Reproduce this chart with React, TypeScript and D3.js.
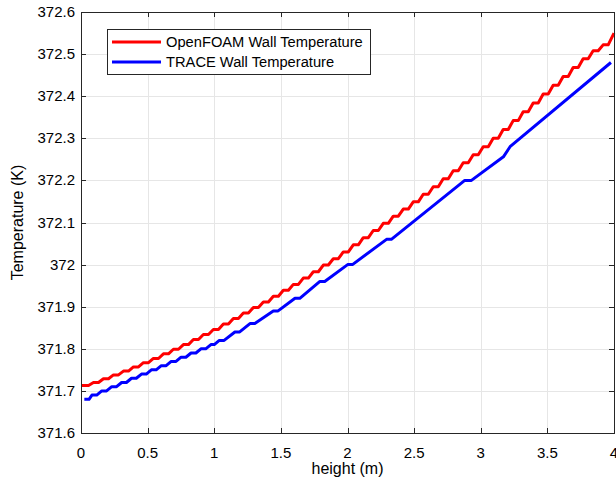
import React from "react";
import * as d3 from "d3";

// chart size and plot box
const W = 616;
const H = 487;
const margin = { left: 81, right: 2, top: 12, bottom: 54 };

// axis ticks
const xTicks = [0, 0.5, 1, 1.5, 2, 2.5, 3, 3.5, 4];
const yTicks = [371.6, 371.7, 371.8, 371.9, 372, 372.1, 372.2, 372.3, 372.4, 372.5, 372.6];

// OpenFOAM: wall cell centres (m) and temperatures (K), drawn as small plateaus
const redX = [
  0.0375, 0.1125, 0.1875, 0.2625, 0.3375, 0.4125, 0.4875, 0.5625, 0.6375, 0.7125,
  0.7875, 0.8625, 0.9375, 1.0125, 1.0875, 1.1625, 1.2375, 1.3125, 1.3875, 1.4625,
  1.5375, 1.6125, 1.6875, 1.7625, 1.8375, 1.9125, 1.9875, 2.0625, 2.1375, 2.2125,
  2.2875, 2.3625, 2.4375, 2.5125, 2.5875, 2.6625, 2.7375, 2.8125, 2.8875, 2.9625,
  3.0375, 3.1125, 3.1875, 3.2625, 3.3375, 3.4125, 3.4875, 3.5625, 3.6375, 3.7125,
  3.7875, 3.8625, 3.9375,
];
const redT = [
  371.713, 371.720, 371.729, 371.738, 371.747, 371.757, 371.767, 371.777, 371.788, 371.799,
  371.810, 371.822, 371.834, 371.846, 371.859, 371.872, 371.885, 371.898, 371.911, 371.925,
  371.939, 371.953, 371.968, 371.983, 371.999, 372.014, 372.030, 372.047, 372.064, 372.081,
  372.098, 372.115, 372.132, 372.149, 372.167, 372.185, 372.204, 372.223, 372.242, 372.261,
  372.280, 372.300, 372.321, 372.342, 372.363, 372.384, 372.405, 372.426, 372.447, 372.468,
  372.489, 372.508, 372.522,
];
const redEnd = [4.0, 372.55];

// TRACE: polyline vertices (m, K)
const blueX = [
  0.025, 0.060, 0.082, 0.118, 0.156, 0.192, 0.231, 0.267, 0.305, 0.341,
  0.379, 0.415, 0.454, 0.490, 0.528, 0.564, 0.603, 0.639, 0.677, 0.713,
  0.751, 0.787, 0.826, 0.862, 0.900, 0.936, 0.975, 1.000, 1.038, 1.074,
  1.155, 1.191, 1.268, 1.304, 1.443, 1.479, 1.606, 1.642, 1.793, 1.829,
  2.001, 2.037, 2.293, 2.329, 2.880, 2.930, 3.170, 3.220, 3.977,
];
const blueT = [
  371.68, 371.68, 371.69, 371.69, 371.70, 371.70, 371.71, 371.71, 371.72, 371.72,
  371.73, 371.73, 371.74, 371.74, 371.75, 371.75, 371.76, 371.76, 371.77, 371.77,
  371.78, 371.78, 371.79, 371.79, 371.80, 371.80, 371.81, 371.81, 371.82, 371.82,
  371.84, 371.84, 371.86, 371.86, 371.89, 371.89, 371.92, 371.92, 371.96, 371.96,
  372.00, 372.00, 372.06, 372.06, 372.20, 372.20, 372.256, 372.28, 372.48,
];

const legendNames = ["OpenFOAM Wall Temperature", "TRACE Wall Temperature"];
const colors = ["#ff0000", "#0000ff"];

const font = "'Liberation Sans', Arial, Helvetica, sans-serif";
const axisColor = "#262626";

export default function App() {
  const x = d3.scaleLinear().domain([0, 4]).range([margin.left, W - margin.right]);
  const y = d3.scaleLinear().domain([371.6, 372.6]).range([H - margin.bottom, margin.top]);

  const line = d3
    .line<[number, number]>()
    .x((d) => x(d[0]))
    .y((d) => y(d[1]));

  // plateau of half width h round each cell centre
  const h = 0.019;
  const redPts: [number, number][] = [];
  redX.forEach((cx, i) => {
    redPts.push([i === 0 ? 0 : cx - h, redT[i]]);
    redPts.push([cx + h, redT[i]]);
  });
  redPts.push([redEnd[0], redEnd[1]]);

  const bluePts: [number, number][] = blueX.map((v, i) => [v, blueT[i]]);

  const x0 = x(0), x1 = x(4), y0 = y(371.6), y1 = y(372.6);
  const tickLen = 5;
  const fmt = (v: number) => String(+v.toFixed(1));

  return (
    <svg
      width={W}
      height={H}
      style={{ position: "absolute", left: 0, top: 0, background: "#fff" }}
      fontFamily={font}
    >
      <rect x={0} y={0} width={W} height={H} fill="#fff" />

      {/* grid */}
      <g stroke="#e6e6e6" strokeWidth={1}>
        {xTicks.map((t) => (
          <line key={"gx" + t} x1={Math.round(x(t)) + 0.5} x2={Math.round(x(t)) + 0.5} y1={y1} y2={y0} />
        ))}
        {yTicks.map((t) => (
          <line key={"gy" + t} x1={x0} x2={x1} y1={Math.round(y(t)) + 0.5} y2={Math.round(y(t)) + 0.5} />
        ))}
      </g>

      {/* data */}
      <path d={line(redPts) || ""} fill="none" stroke={colors[0]} strokeWidth={3} strokeLinejoin="round" />
      <path d={line(bluePts) || ""} fill="none" stroke={colors[1]} strokeWidth={3} strokeLinejoin="round" />

      {/* box and ticks */}
      <g stroke={axisColor} strokeWidth={1} fill="none">
        <rect x={Math.round(x0) + 0.5} y={Math.round(y1) + 0.5} width={Math.round(x1 - x0)} height={Math.round(y0 - y1)} />
        {xTicks.map((t) => {
          const px = Math.round(x(t)) + 0.5;
          return (
            <g key={"tx" + t}>
              <line x1={px} x2={px} y1={y0} y2={y0 - tickLen} />
              <line x1={px} x2={px} y1={y1} y2={y1 + tickLen} />
            </g>
          );
        })}
        {yTicks.map((t) => {
          const py = Math.round(y(t)) + 0.5;
          return (
            <g key={"ty" + t}>
              <line x1={x0} x2={x0 + tickLen} y1={py} y2={py} />
              <line x1={x1} x2={x1 - tickLen} y1={py} y2={py} />
            </g>
          );
        })}
      </g>

      {/* tick labels */}
      <g fontSize={15} fill="#000">
        {xTicks.map((t) => (
          <text key={"lx" + t} x={x(t)} y={y0 + 25} textAnchor="middle">
            {fmt(t)}
          </text>
        ))}
        {yTicks.map((t) => (
          <text key={"ly" + t} x={x0 - 6} y={y(t) + 5} textAnchor="end">
            {fmt(t)}
          </text>
        ))}
      </g>

      {/* axis titles */}
      <text x={(x0 + x1) / 2} y={H - 13} textAnchor="middle" fontSize={16} fill="#000">
        height (m)
      </text>
      <text
        transform={`translate(23,${(y0 + y1) / 2}) rotate(-90)`}
        textAnchor="middle"
        fontSize={16}
        fill="#000"
      >
        Temperature (K)
      </text>

      {/* legend */}
      <g>
        <rect x={107.5} y={29.5} width={263} height={45} fill="#fff" stroke={axisColor} strokeWidth={1} />
        {legendNames.map((name, i) => (
          <g key={name}>
            <line x1={112} x2={161} y1={42 + i * 20} y2={42 + i * 20} stroke={colors[i]} strokeWidth={3} />
            <text x={166} y={47 + i * 20} fontSize={14.7} fill="#000">
              {name}
            </text>
          </g>
        ))}
      </g>
    </svg>
  );
}
